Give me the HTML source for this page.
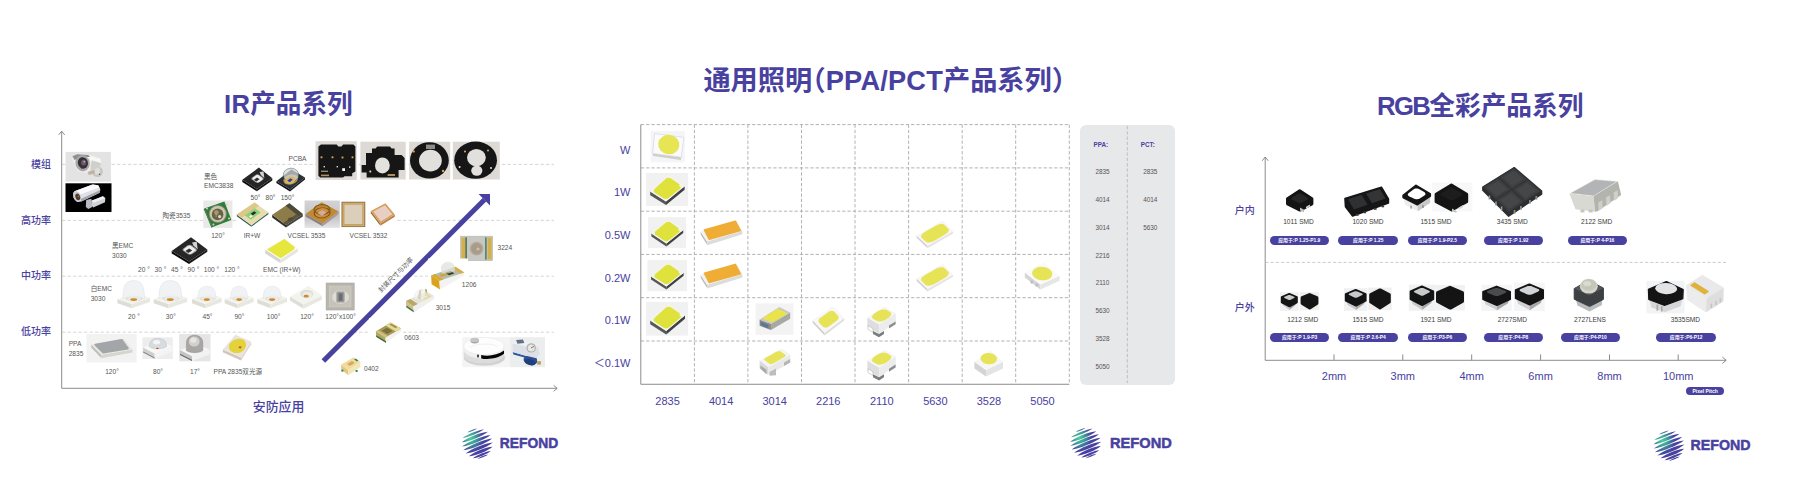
<!DOCTYPE html>
<html lang="zh"><head><meta charset="utf-8"><title>REFOND</title>
<style>
html,body{margin:0;padding:0;background:#fff}
body{width:1793px;height:490px;position:relative;overflow:hidden;font-family:"Liberation Sans","Noto Sans CJK SC",sans-serif}
.t{position:absolute;white-space:nowrap;line-height:1.2;z-index:2}
.a{position:absolute;overflow:visible}
.pill{position:absolute;background:#4841a0;color:#fff;border-radius:5px;text-align:center;font-weight:700;white-space:nowrap;overflow:hidden}
</style></head><body>
<div class="t" style="left:224px;top:104.0px;font-size:25.6px;color:#4841a0;font-weight:700;transform:translate(0,-50%)"><span style="letter-spacing:0.3px">IR</span>产品系列</div>
<svg class="a" style="left:0;top:0" width="600" height="420"><g fill="none" stroke="#7f7f7f" stroke-width="0.9"><path d="M61.7 388.3V131.5M58.7 134.8L61.7 131.2L64.7 134.8"/><path d="M61.7 388.3H557M553.6 385.3L557.2 388.3L553.6 391.3"/></g><g stroke="#cbcbcb" stroke-width="0.8" stroke-dasharray="3.3 2.2"><path d="M62 164.4H554"/><path d="M62 220.4H554"/><path d="M62 276.2H554"/><path d="M62 332.2H554"/></g><g fill="#4841a0" stroke="none"><path d="M321.6 359.3L325.2 362.8L486.2 201.4L482.6 197.9Z"/><path d="M490 194.1H478.6L490 205.4Z"/></g></svg>
<div class="t" style="left:51px;top:165.2px;font-size:10px;color:#4841a0;font-weight:500;transform:translate(-100%,-50%)">模组</div>
<div class="t" style="left:51px;top:220.8px;font-size:10px;color:#4841a0;font-weight:500;transform:translate(-100%,-50%)">高功率</div>
<div class="t" style="left:51px;top:276.2px;font-size:10px;color:#4841a0;font-weight:500;transform:translate(-100%,-50%)">中功率</div>
<div class="t" style="left:51px;top:331.6px;font-size:10px;color:#4841a0;font-weight:500;transform:translate(-100%,-50%)">低功率</div>
<div class="t" style="left:278.6px;top:406.6px;font-size:12.9px;color:#4841a0;font-weight:500;transform:translate(-50%,-50%)">安防应用</div>
<div class="t" style="left:395.8px;top:275.3px;font-size:6.6px;color:#555;font-weight:400;transform:translate(-50%,-50%) rotate(-45deg)">封装尺寸与功率</div>
<div class="t" style="left:288.5px;top:158.7px;font-size:6.6px;color:#555;font-weight:400;transform:translate(0,-50%)">PCBA</div>
<div class="t" style="left:204px;top:176.5px;font-size:6.6px;color:#555;font-weight:400;transform:translate(0,-50%)">黑色</div>
<div class="t" style="left:204px;top:186.3px;font-size:6.6px;color:#555;font-weight:400;transform:translate(0,-50%)">EMC3838</div>
<div class="t" style="left:255.5px;top:197.7px;font-size:6.6px;color:#555;font-weight:400;transform:translate(-50%,-50%)">50°</div>
<div class="t" style="left:270.5px;top:197.7px;font-size:6.6px;color:#555;font-weight:400;transform:translate(-50%,-50%)">80°</div>
<div class="t" style="left:287.5px;top:197.7px;font-size:6.6px;color:#555;font-weight:400;transform:translate(-50%,-50%)">150°</div>
<div class="t" style="left:162.5px;top:215.7px;font-size:6.6px;color:#555;font-weight:400;transform:translate(0,-50%)">陶瓷3535</div>
<div class="t" style="left:218px;top:235.7px;font-size:6.6px;color:#555;font-weight:400;transform:translate(-50%,-50%)">120°</div>
<div class="t" style="left:252px;top:235.7px;font-size:6.6px;color:#555;font-weight:400;transform:translate(-50%,-50%)">IR+W</div>
<div class="t" style="left:306.5px;top:235.7px;font-size:6.6px;color:#555;font-weight:400;transform:translate(-50%,-50%)">VCSEL 3535</div>
<div class="t" style="left:368.5px;top:235.7px;font-size:6.6px;color:#555;font-weight:400;transform:translate(-50%,-50%)">VCSEL 3532</div>
<div class="t" style="left:112px;top:245.7px;font-size:6.6px;color:#555;font-weight:400;transform:translate(0,-50%)">黑EMC</div>
<div class="t" style="left:112px;top:256.1px;font-size:6.6px;color:#555;font-weight:400;transform:translate(0,-50%)">3030</div>
<div class="t" style="left:144px;top:270.4px;font-size:6.6px;color:#555;font-weight:400;transform:translate(-50%,-50%)">20 °</div>
<div class="t" style="left:160.5px;top:270.4px;font-size:6.6px;color:#555;font-weight:400;transform:translate(-50%,-50%)">30 °</div>
<div class="t" style="left:177px;top:270.4px;font-size:6.6px;color:#555;font-weight:400;transform:translate(-50%,-50%)">45 °</div>
<div class="t" style="left:193.5px;top:270.4px;font-size:6.6px;color:#555;font-weight:400;transform:translate(-50%,-50%)">90 °</div>
<div class="t" style="left:211.5px;top:270.4px;font-size:6.6px;color:#555;font-weight:400;transform:translate(-50%,-50%)">100 °</div>
<div class="t" style="left:232px;top:270.4px;font-size:6.6px;color:#555;font-weight:400;transform:translate(-50%,-50%)">120 °</div>
<div class="t" style="left:281.8px;top:270.4px;font-size:6.6px;color:#555;font-weight:400;transform:translate(-50%,-50%)">EMC (IR+W)</div>
<div class="t" style="left:497.5px;top:248.4px;font-size:6.6px;color:#555;font-weight:400;transform:translate(0,-50%)">3224</div>
<div class="t" style="left:90.7px;top:289.0px;font-size:6.6px;color:#555;font-weight:400;transform:translate(0,-50%)">白EMC</div>
<div class="t" style="left:90.7px;top:298.5px;font-size:6.6px;color:#555;font-weight:400;transform:translate(0,-50%)">3030</div>
<div class="t" style="left:134px;top:316.7px;font-size:6.6px;color:#555;font-weight:400;transform:translate(-50%,-50%)">20 °</div>
<div class="t" style="left:170.8px;top:316.7px;font-size:6.6px;color:#555;font-weight:400;transform:translate(-50%,-50%)">30°</div>
<div class="t" style="left:207.5px;top:316.7px;font-size:6.6px;color:#555;font-weight:400;transform:translate(-50%,-50%)">45°</div>
<div class="t" style="left:239.4px;top:316.7px;font-size:6.6px;color:#555;font-weight:400;transform:translate(-50%,-50%)">90°</div>
<div class="t" style="left:273.6px;top:316.7px;font-size:6.6px;color:#555;font-weight:400;transform:translate(-50%,-50%)">100°</div>
<div class="t" style="left:307px;top:316.7px;font-size:6.6px;color:#555;font-weight:400;transform:translate(-50%,-50%)">120°</div>
<div class="t" style="left:340.6px;top:316.7px;font-size:6.6px;color:#555;font-weight:400;transform:translate(-50%,-50%)">120°x100°</div>
<div class="t" style="left:461.8px;top:284.9px;font-size:6.6px;color:#555;font-weight:400;transform:translate(0,-50%)">1206</div>
<div class="t" style="left:435.7px;top:307.7px;font-size:6.6px;color:#555;font-weight:400;transform:translate(0,-50%)">3015</div>
<div class="t" style="left:404.3px;top:337.9px;font-size:6.6px;color:#555;font-weight:400;transform:translate(0,-50%)">0603</div>
<div class="t" style="left:364px;top:369.3px;font-size:6.6px;color:#555;font-weight:400;transform:translate(0,-50%)">0402</div>
<div class="t" style="left:68.7px;top:344.4px;font-size:6.6px;color:#555;font-weight:400;transform:translate(0,-50%)">PPA</div>
<div class="t" style="left:68.7px;top:353.7px;font-size:6.6px;color:#555;font-weight:400;transform:translate(0,-50%)">2835</div>
<div class="t" style="left:112px;top:372.0px;font-size:6.6px;color:#555;font-weight:400;transform:translate(-50%,-50%)">120°</div>
<div class="t" style="left:158px;top:372.0px;font-size:6.6px;color:#555;font-weight:400;transform:translate(-50%,-50%)">80°</div>
<div class="t" style="left:195px;top:372.0px;font-size:6.6px;color:#555;font-weight:400;transform:translate(-50%,-50%)">17°</div>
<div class="t" style="left:237.8px;top:372.0px;font-size:6.6px;color:#555;font-weight:400;transform:translate(-50%,-50%)">PPA 2835双光源</div>
<svg class="a" style="left:0;top:0" width="1793" height="490"><defs><radialGradient id="lg1" gradientUnits="userSpaceOnUse" cx="-4.6" cy="-7.0" r="17"><stop offset="0" stop-color="#4fd09a"/><stop offset="0.35" stop-color="#3f9a9a"/><stop offset="0.75" stop-color="#4841a0"/></radialGradient></defs><g transform="translate(477.3,443.2) rotate(-22)" fill="url(#lg1)"><path d="M-5.2 -13.7C-2.6 -14.5 2.6 -14.5 5.2 -13.7C2.6 -12.9 -2.6 -12.9 -5.2 -13.7Z"/><path d="M-11.6 -10.4C-5.8 -11.9 5.8 -11.9 11.6 -10.4C5.8 -8.9 -5.8 -8.9 -11.6 -10.4Z"/><path d="M-14.1 -6.6C-7.1 -8.8 7.1 -8.8 14.1 -6.6C7.1 -4.4 -7.1 -4.4 -14.1 -6.6Z"/><path d="M-15.4 -2.7C-7.7 -4.9 7.7 -4.9 15.4 -2.7C7.7 -0.5 -7.7 -0.5 -15.4 -2.7Z"/><path d="M-15.6 1.2C-7.8 -1.0 7.8 -1.0 15.6 1.2C7.8 3.4 -7.8 3.4 -15.6 1.2Z"/><path d="M-14.7 5.1C-7.4 2.9 7.4 2.9 14.7 5.1C7.4 7.3 -7.4 7.3 -14.7 5.1Z"/><path d="M-12.8 8.9C-6.4 6.7 6.4 6.7 12.8 8.9C6.4 11.1 -6.4 11.1 -12.8 8.9Z"/><path d="M-9.7 12.2C-4.9 10.7 4.9 10.7 9.7 12.2C4.9 13.7 -4.9 13.7 -9.7 12.2Z"/><path d="M-5.8 14.5C-2.9 13.7 2.9 13.7 5.8 14.5C2.9 15.3 -2.9 15.3 -5.8 14.5Z"/></g><text x="499.8" y="448.2" font-family="Liberation Sans, sans-serif" font-weight="700" font-size="14.6" fill="#4841a0" stroke="#4841a0" stroke-width="0.5" textLength="58.400000000000034" lengthAdjust="spacingAndGlyphs">REFOND</text></svg>
<svg class="a" style="left:0;top:0" width="600" height="420"><rect x="65.5" y="151.9" width="45.4" height="29.7" fill="#e3e3e3" /><circle cx="97.4" cy="171.6" r="5.4" fill="#c6c6c4" /><circle cx="96.6" cy="170.8" r="3.6" fill="#dededc" /><circle cx="99.6" cy="174.2" r="0.7" fill="#555" /><polygon points="87.6,171.0 94.4,169.4 95.0,173.6 88.6,175.0" fill="#c2b2a4" /><polygon points="72.4,156.3 77.2,154.3 88.3,154.9 100.1,158.4 101.5,163.3 99.4,167.4 90.4,170.9 84.9,173.0 77.9,171.6 74.4,164.7 72.4,159.8" fill="#ecece9" /><polygon points="77.2,154.3 88.3,154.9 100.1,158.4 101.5,163.3 92.0,160.4 86.0,156.6" fill="#f7f7f5" /><polygon points="92.0,160.6 101.5,163.3 99.4,167.4 90.4,170.9 90.8,165.0" fill="#cfcfcc" /><polygon points="72.4,156.3 77.2,154.3 88.3,154.9 90.0,157.0 80.0,157.4 74.6,160.0" fill="#8f8f8f" /><ellipse cx="82.6" cy="163.2" rx="7.2" ry="8.0" fill="#a9a9ab" transform="rotate(-15 82.6 163.2)"/><ellipse cx="82.9" cy="162.9" rx="5.0" ry="5.8" fill="#35303a" transform="rotate(-15 82.9 162.9)"/><ellipse cx="83.6" cy="162.6" rx="2.4" ry="2.9" fill="#6e5a66" /><circle cx="84.4" cy="161.6" r="0.9" fill="#b9aab4" /><circle cx="81.6" cy="168.6" r="0.6" fill="#cc2a1a" /><rect x="65.5" y="183.3" width="46.0" height="28.7" fill="#000" /><polygon points="86.2,200.1 91.4,198.7 92.2,207.0 88.3,209.1 85.8,207.0" fill="#babcc4" /><polygon points="91.4,200.8 102.9,196.3 105.3,198.3 105.0,202.2 93.2,207.4 91.8,205.6" fill="#cfd1d7" /><polygon points="91.4,200.8 102.9,196.3 105.3,198.3 93.8,202.8" fill="#eeeff2" /><polygon points="73.1,193.1 74.4,191.3 92.5,184.4 98.1,185.2 100.3,189.0 99.7,192.7 81.4,201.5 77.2,201.9 73.8,198.0" fill="#dfe0e6" /><polygon points="74.4,191.3 92.5,184.4 98.1,185.2 99.6,187.6 80.0,194.6" fill="#fafafc" /><polygon points="81.4,201.5 99.7,192.7 100.3,190.0 80.7,199.0" fill="#a2a4ac" /><ellipse cx="77.0" cy="196.6" rx="3.7" ry="5.4" fill="#c9cad2" transform="rotate(-20 77 196.6)"/><ellipse cx="77.8" cy="196.9" rx="2.3" ry="3.4" fill="#4a3a30" transform="rotate(-20 77.8 196.9)"/><circle cx="78.4" cy="196.4" r="0.9" fill="#a0663a" /><rect x="315.6" y="141.2" width="41.2" height="38.8" fill="#dddad6" /><path d="M318.4 146.5L321 144.6H336.6L338.4 146.6H341.4L343.2 144.6H353.4L355.4 146.6V171.6L352.2 173.2V176.2H344.6L343 177.6H320.2L318.4 175.8Z" fill="#161616"/><rect x="320.6" y="156.4" width="1.8" height="1.8" fill="#e0b060" /><rect x="331.6" y="156.4" width="1.8" height="1.8" fill="#e0b060" /><rect x="341.6" y="156.6" width="1.8" height="1.8" fill="#e0b060" /><rect x="351.6" y="156.4" width="1.8" height="1.8" fill="#e0b060" /><rect x="323.6" y="166.0" width="1.4" height="1.4" fill="#e8e0c8" /><rect x="336.6" y="166.0" width="1.4" height="1.4" fill="#e8e0c8" /><rect x="349.0" y="166.4" width="1.4" height="1.4" fill="#e8e0c8" /><rect x="342.2" y="168.2" width="2.8" height="2.8" fill="#f4f4f4" /><rect x="321.0" y="170.6" width="7.0" height="1.4" fill="#8a8a80" /><rect x="321.0" y="174.6" width="8.0" height="1.6" fill="#b09060" /><rect x="360.4" y="141.7" width="45.3" height="37.8" fill="#dddad6" /><path d="M372 148.6H375.6L377.2 146.6H390L391.6 148.6H394.6V155H401.6L404.6 158V170H398.6V177.4H366.6V172.6H361.6V165H366V153H372Z" fill="#161616"/><ellipse cx="382.4" cy="165.4" rx="7.4" ry="8.0" fill="#e4e2de" /><rect x="387.6" y="174.0" width="7.4" height="2.0" fill="#b09060" /><rect x="369.4" y="170.6" width="1.8" height="1.8" fill="#e8e0c8" /><rect x="409.1" y="141.7" width="41.1" height="37.8" fill="#dddad6" /><ellipse cx="429.4" cy="160.4" rx="19.4" ry="18.2" fill="#161616" /><ellipse cx="430.4" cy="160.6" rx="11.4" ry="10.8" fill="#e2e0dc" /><rect x="426.0" y="144.6" width="9.0" height="4.4" fill="#8c8c88" /><circle cx="413.6" cy="151.4" r="1.2" fill="#e0a040" /><circle cx="443.0" cy="171.0" r="1.2" fill="#e0a040" /><rect x="452.8" y="141.7" width="47.0" height="37.8" fill="#dddad6" /><ellipse cx="475.6" cy="160.2" rx="21.4" ry="18.6" fill="#161616" /><ellipse cx="476.4" cy="157.6" rx="9.4" ry="8.6" fill="#e2e0dc" /><ellipse cx="476.8" cy="170.6" rx="5.6" ry="5.2" fill="#e2e0dc" /><circle cx="465.0" cy="151.6" r="1.0" fill="#e0b060" /><circle cx="488.0" cy="150.6" r="1.0" fill="#e0b060" /><circle cx="459.6" cy="167.0" r="1.0" fill="#e8e0c8" /><circle cx="491.0" cy="168.0" r="1.0" fill="#e8e0c8" /><polygon points="242.3,179.8 256.8,189.0 256.8,191.2 242.3,182.0" fill="#0a0a0a" /><polygon points="256.8,189.0 272.3,178.2 272.3,180.4 256.8,191.2" fill="#161616" /><polygon points="258.8,167.6 272.3,178.2 256.8,189.0 242.3,179.8" fill="#262626" /><polygon points="263.0,177.5 263.4,177.9 263.6,178.3 263.6,178.8 263.5,179.3 263.2,179.7 262.8,180.1 259.6,182.3 259.1,182.6 258.4,182.9 257.8,182.9 257.1,182.9 256.5,182.8 256.0,182.5 252.0,179.8 251.7,179.5 251.4,179.1 251.4,178.6 251.5,178.1 251.8,177.7 252.3,177.3 255.5,174.9 256.1,174.6 256.7,174.3 257.4,174.2 258.1,174.3 258.6,174.4 259.1,174.7" fill="#8e8e8e" /><polygon points="262.1,177.8 262.4,178.1 262.6,178.5 262.6,178.8 262.5,179.2 262.3,179.6 261.9,179.9 259.4,181.7 258.9,182.0 258.4,182.2 257.8,182.2 257.3,182.2 256.8,182.1 256.4,181.9 253.0,179.6 252.7,179.3 252.5,178.9 252.4,178.5 252.6,178.1 252.8,177.8 253.2,177.4 255.8,175.5 256.2,175.3 256.8,175.1 257.3,175.0 257.9,175.0 258.4,175.1 258.8,175.4" fill="#eeeeee" /><polygon points="257.1,177.4 259.6,179.2 256.4,181.5 253.9,179.7" fill="#2e2e2e" /><polygon points="259.6,172.1 263.5,171.5 264.3,178.0 260.9,175.0" fill="#d4d4d4" /><polygon points="276.4,181.2 290.0,189.6 290.0,191.4 276.4,183.0" fill="#0c0e10" /><polygon points="290.0,189.6 305.0,177.6 305.0,179.4 290.0,191.4" fill="#1a1d20" /><polygon points="291.4,169.6 305.0,177.6 290.0,189.6 276.4,181.2" fill="#2b3036" /><polygon points="295.6,182.5 294.3,183.3 292.8,184.0 291.2,184.5 289.5,184.7 288.0,184.6 286.5,184.3 285.3,183.7 284.3,183.0 283.7,182.0 283.4,181.0 283.5,179.8 283.9,178.7 284.7,177.6 285.8,176.5 287.1,175.7 288.6,175.0 290.2,174.6 291.9,174.4 293.4,174.4 294.9,174.7 296.1,175.3 297.1,176.0 297.7,176.9 298.0,178.0 297.9,179.1 297.5,180.3 296.7,181.4" fill="#b89a4c" /><ellipse cx="291.0" cy="175.0" rx="7.8" ry="6.8" fill="#cfd6da" opacity="0.72" stroke="#39434b" stroke-width="0.6"/><polygon points="293.6,182.3 292.7,182.9 291.7,183.4 290.5,183.7 289.4,183.9 288.3,183.8 287.3,183.6 286.5,183.2 285.8,182.7 285.4,182.0 285.2,181.3 285.2,180.5 285.5,179.7 286.1,178.9 286.8,178.2 287.7,177.6 288.8,177.1 289.9,176.8 291.0,176.7 292.1,176.7 293.1,176.9 294.0,177.3 294.6,177.8 295.1,178.5 295.3,179.2 295.2,180.0 294.9,180.8 294.4,181.6" fill="#d8b860" /><polygon points="290.4,178.3 292.8,179.7 289.7,182.2 287.2,180.7" fill="#2a3fc0" /><rect x="203.3" y="200.5" width="29.1" height="27.4" fill="#e9e9e7" /><polygon points="224.4,201.4 231.4,220.0 212.0,227.2 204.4,208.4" fill="#2e7d3a" /><polygon points="204.4,208.4 212.0,227.2 211.6,228.0 203.8,209.0" fill="#1c5a28" /><circle cx="217.8" cy="214.0" r="9.0" fill="#8f8b74" /><circle cx="217.8" cy="214.0" r="8.0" fill="#cdc8b2" /><circle cx="217.6" cy="214.4" r="5.8" fill="#6a6248" /><circle cx="216.4" cy="212.6" r="2.4" fill="#9a947a" /><ellipse cx="219.6" cy="216.6" rx="1.6" ry="1.6" fill="#d8d8d0" /><rect x="215.6" y="210.4" width="1.0" height="6.6" fill="#c0a040" /><circle cx="207.0" cy="208.6" r="1.0" fill="#d8d0a8" /><circle cx="226.6" cy="204.6" r="1.0" fill="#d8d0a8" /><circle cx="213.4" cy="224.6" r="1.0" fill="#d8d0a8" /><circle cx="229.0" cy="218.6" r="1.0" fill="#d8d0a8" /><rect x="236.7" y="201.0" width="31.9" height="27.0" fill="#fff" /><rect x="271.8" y="201.0" width="32.8" height="27.0" fill="#fff" /><rect x="340.0" y="200.5" width="57.0" height="27.5" fill="#fff" /><polygon points="236.8,214.6 251.4,225.2 251.4,226.8 236.8,216.2" fill="#2c5a5a" /><polygon points="251.4,225.2 268.4,212.6 268.4,214.2 251.4,226.8" fill="#3a6a66" /><polygon points="254.6,202.6 268.4,212.6 251.4,225.2 236.8,214.6" fill="#e9dcae" /><polygon points="254.6,202.6 259.0,205.8 241.5,218.0 236.8,214.6" fill="#dcc88a" /><polygon points="254.9,208.3 260.7,212.5 250.8,219.7 244.7,215.3" fill="#8fd07a" /><polygon points="254.1,211.2 256.4,212.8 252.9,215.3 250.6,213.7" fill="#2a2a2a" /><polygon points="251.1,215.0 252.8,216.2 250.7,217.7 249.0,216.5" fill="#f4f4f4" /><polygon points="272.2,214.8 286.0,225.0 286.0,227.6 272.2,217.4" fill="#2e2e2c" /><polygon points="286.0,225.0 302.8,214.0 302.8,216.6 286.0,227.6" fill="#454540" /><polygon points="289.4,203.2 302.8,214.0 286.0,225.0 272.2,214.8" fill="#8c7c48" /><polygon points="289.4,203.2 302.8,214.0 299.1,216.4 285.6,205.8" fill="#4c4a3c" /><polygon points="296.7,214.1 299.4,216.2 286.0,225.0 283.2,223.0" fill="#5a563e" /><polygon points="292.1,220.6 291.6,220.9 291.1,221.1 290.5,221.2 289.9,221.2 289.4,221.1 288.9,220.9 288.5,220.7 288.1,220.4 287.9,220.0 287.9,219.6 287.9,219.2 288.1,218.8 288.4,218.4 288.8,218.1 289.3,217.8 289.9,217.7 290.5,217.5 291.0,217.5 291.6,217.6 292.1,217.8 292.5,218.0 292.8,218.3 293.0,218.7 293.1,219.1 293.0,219.5 292.8,219.9 292.5,220.3" fill="#4c4a3c" /><defs><linearGradient id="vg" x1="0" y1="0" x2="0" y2="1"><stop offset="0" stop-color="#d4d4d6"/><stop offset="0.6" stop-color="#c4c4c6"/><stop offset="1" stop-color="#e4e4e6"/></linearGradient></defs><rect x="304.6" y="200.5" width="35.2" height="27.4" fill="url(#vg)" /><polygon points="305.6,214.0 322.6,223.6 322.6,226.2 305.6,216.6" fill="#8a8088" /><polygon points="322.6,223.6 338.6,211.6 338.6,214.2 322.6,226.2" fill="#a89aa0" /><polygon points="321.6,202.2 338.6,211.6 322.6,223.6 305.6,214.0" fill="#bf8a32" /><polygon points="328.2,216.3 326.8,217.1 325.1,217.8 323.3,218.2 321.4,218.3 319.6,218.2 317.8,217.8 316.3,217.1 315.1,216.3 314.3,215.2 313.8,214.1 313.7,212.8 314.1,211.6 314.9,210.5 316.0,209.4 317.4,208.6 319.1,207.9 320.9,207.5 322.8,207.4 324.6,207.5 326.4,207.9 327.9,208.6 329.1,209.4 329.9,210.5 330.4,211.6 330.5,212.8 330.1,214.1 329.3,215.2" fill="#7a4a20" /><polygon points="327.4,215.8 326.1,216.5 324.7,217.1 323.1,217.5 321.5,217.6 319.9,217.5 318.4,217.1 317.1,216.5 316.1,215.8 315.3,214.9 314.9,213.9 314.9,212.8 315.2,211.8 315.9,210.8 316.8,209.9 318.1,209.2 319.5,208.6 321.1,208.3 322.7,208.1 324.3,208.3 325.8,208.6 327.1,209.2 328.1,209.9 328.9,210.8 329.3,211.8 329.3,212.8 329.0,213.9 328.3,214.9" fill="#c8923c" /><ellipse cx="322.0" cy="209.4" rx="7.8" ry="4.8" fill="none" stroke="#8a5a20" stroke-width="1.4"/><polygon points="322.0,209.9 326.7,212.5 322.2,215.8 317.5,213.2" fill="#d8a8a0" /><rect x="341.9" y="202.1" width="23.0" height="24.6" fill="#bf9650" stroke="#7a6444" stroke-width="0.7"/><rect x="344.4" y="204.6" width="18.0" height="19.6" fill="#dccfb9" /><rect x="343.2" y="203.4" width="20.4" height="22.0" fill="none" stroke="#d8b070" stroke-width="0.8"/><polygon points="370.8,211.0 380.4,223.6 380.4,225.8 370.8,213.2" fill="#9a6e38" /><polygon points="380.4,223.6 394.8,214.6 394.8,216.8 380.4,225.8" fill="#b8824a" /><polygon points="385.4,203.2 394.8,214.6 380.4,223.6 370.8,211.0" fill="#d3a05a" /><polygon points="384.9,205.2 392.4,214.3 380.9,221.5 373.2,211.4" fill="#e9cfc3" /><polygon points="171.7,251.0 189.0,261.6 189.0,264.0 171.7,253.4" fill="#0a0a0a" /><polygon points="189.0,261.6 207.3,249.4 207.3,251.8 189.0,264.0" fill="#161616" /><polygon points="191.0,237.2 207.3,249.4 189.0,261.6 171.7,251.0" fill="#262626" /><polygon points="196.2,248.6 196.6,249.0 196.9,249.5 197.0,250.0 196.8,250.6 196.5,251.1 196.0,251.5 192.3,254.0 191.6,254.4 190.9,254.6 190.1,254.7 189.3,254.7 188.6,254.5 188.0,254.2 183.2,251.1 182.8,250.7 182.5,250.2 182.5,249.7 182.6,249.2 183.0,248.6 183.5,248.2 187.3,245.5 187.9,245.1 188.7,244.9 189.5,244.8 190.3,244.8 191.0,245.0 191.6,245.3" fill="#8e8e8e" /><polygon points="195.1,248.9 195.5,249.2 195.7,249.6 195.8,250.1 195.6,250.5 195.4,250.9 194.9,251.3 192.0,253.3 191.4,253.6 190.8,253.8 190.1,253.9 189.5,253.9 188.9,253.7 188.4,253.5 184.3,250.8 184.0,250.5 183.7,250.1 183.7,249.6 183.8,249.2 184.1,248.7 184.5,248.4 187.6,246.2 188.1,245.9 188.7,245.7 189.4,245.6 190.1,245.7 190.6,245.8 191.1,246.1" fill="#eeeeee" /><polygon points="189.2,248.4 192.2,250.4 188.4,253.0 185.4,251.0" fill="#2e2e2e" /><polygon points="192.0,242.4 196.7,241.7 197.7,249.2 193.6,245.7" fill="#d4d4d4" /><polygon points="265.2,249.6 280.6,259.4 280.6,263.2 265.2,253.4" fill="#d6d6d0" /><polygon points="280.6,259.4 297.8,248.0 297.8,251.8 280.6,263.2" fill="#e6e6e0" /><polygon points="284.6,238.0 297.8,248.0 280.6,259.4 265.2,249.6" fill="#fafaf6" /><polygon points="284.3,239.1 296.2,248.1 280.7,258.3 266.9,249.5" fill="#e6e63c" /><polygon points="295.2,246.0 297.8,248.0 293.7,250.7" fill="#fafaf6" /><rect x="460.5" y="236.2" width="32.1" height="24.4" fill="#c7c7c3" stroke="#b4b4b0" stroke-width="0.6"/><rect x="461.4" y="237.6" width="4.0" height="21.8" fill="#d4b04a" /><rect x="487.6" y="237.6" width="4.0" height="21.8" fill="#d4b04a" /><rect x="465.4" y="237.4" width="1.4" height="22.2" fill="#3a6a4a" /><rect x="485.2" y="237.4" width="1.4" height="22.2" fill="#3a7a5a" /><circle cx="476.6" cy="248.6" r="6.8" fill="#b4aa98" /><circle cx="476.6" cy="248.6" r="5.4" fill="#a89c88" /><circle cx="478.0" cy="249.0" r="1.6" fill="#c8c0b0" /><polygon points="117.4,299.0 131.7,304.0 131.7,308.2 117.4,303.2" fill="#deded6" /><polygon points="131.7,304.0 150.0,297.8 150.0,302.0 131.7,308.2" fill="#e8e8e0" /><polygon points="135.7,292.8 150.0,297.8 131.7,304.0 117.4,299.0" fill="#f4f4ee" /><ellipse cx="134.3" cy="298.2" rx="8.5" ry="3.1" fill="#e0e0d8" /><ellipse cx="134.5" cy="298.8" rx="6.5" ry="2.4" fill="#ecece6" /><ellipse cx="133.7" cy="299.6" rx="3.4" ry="1.3" fill="#cf8a30" /><path d="M122.9 299.0C122.9 285.9 125.6 280.6 133.7 280.6C141.8 280.6 144.5 285.9 144.5 299.0C140.2 296.2 127.2 296.2 122.9 299.0Z" fill="#eff1f3" fill-opacity="0.92" stroke="#dcdfe3" stroke-width="0.5"/><polygon points="153.6,299.0 168.3,304.0 168.3,308.2 153.6,303.2" fill="#deded6" /><polygon points="168.3,304.0 187.0,297.8 187.0,302.0 168.3,308.2" fill="#e8e8e0" /><polygon points="172.3,292.8 187.0,297.8 168.3,304.0 153.6,299.0" fill="#f4f4ee" /><ellipse cx="170.9" cy="298.2" rx="8.7" ry="3.1" fill="#e0e0d8" /><ellipse cx="171.1" cy="298.8" rx="6.7" ry="2.4" fill="#ecece6" /><ellipse cx="170.3" cy="299.6" rx="3.5" ry="1.3" fill="#cf8a30" /><path d="M158.9 299.0C158.9 285.9 161.8 280.6 170.3 280.6C178.8 280.6 181.7 285.9 181.7 299.0C177.1 296.2 163.5 296.2 158.9 299.0Z" fill="#eff1f3" fill-opacity="0.92" stroke="#dcdfe3" stroke-width="0.5"/><polygon points="192.0,299.0 205.1,304.0 205.1,308.2 192.0,303.2" fill="#deded6" /><polygon points="205.1,304.0 221.7,297.8 221.7,302.0 205.1,308.2" fill="#e8e8e0" /><polygon points="208.6,292.8 221.7,297.8 205.1,304.0 192.0,299.0" fill="#f4f4ee" /><ellipse cx="207.4" cy="298.2" rx="7.7" ry="3.1" fill="#e0e0d8" /><ellipse cx="207.7" cy="298.8" rx="5.9" ry="2.4" fill="#ecece6" /><ellipse cx="206.8" cy="299.6" rx="3.1" ry="1.3" fill="#cf8a30" /><path d="M197.9 299.0C197.9 290.0 200.2 286.4 206.8 286.4C213.5 286.4 215.8 290.0 215.8 299.0C212.2 296.2 201.5 296.2 197.9 299.0Z" fill="#eff1f3" fill-opacity="0.92" stroke="#dcdfe3" stroke-width="0.5"/><polygon points="224.6,299.0 237.4,304.0 237.4,308.2 224.6,303.2" fill="#deded6" /><polygon points="237.4,304.0 253.6,297.8 253.6,302.0 237.4,308.2" fill="#e8e8e0" /><polygon points="240.8,292.8 253.6,297.8 237.4,304.0 224.6,299.0" fill="#f4f4ee" /><ellipse cx="239.7" cy="298.2" rx="7.5" ry="3.1" fill="#e0e0d8" /><ellipse cx="239.9" cy="298.8" rx="5.8" ry="2.4" fill="#ecece6" /><ellipse cx="239.1" cy="299.6" rx="3.0" ry="1.3" fill="#cf8a30" /><path d="M230.7 299.0C230.7 290.0 232.8 286.4 239.1 286.4C245.4 286.4 247.5 290.0 247.5 299.0C244.1 296.2 234.1 296.2 230.7 299.0Z" fill="#eff1f3" fill-opacity="0.92" stroke="#dcdfe3" stroke-width="0.5"/><polygon points="257.3,299.0 270.4,304.0 270.4,308.2 257.3,303.2" fill="#deded6" /><polygon points="270.4,304.0 287.0,297.8 287.0,302.0 270.4,308.2" fill="#e8e8e0" /><polygon points="273.9,292.8 287.0,297.8 270.4,304.0 257.3,299.0" fill="#f4f4ee" /><ellipse cx="272.8" cy="298.2" rx="7.7" ry="3.1" fill="#e0e0d8" /><ellipse cx="272.9" cy="298.8" rx="5.9" ry="2.4" fill="#ecece6" /><ellipse cx="272.1" cy="299.6" rx="3.1" ry="1.3" fill="#cf8a30" /><path d="M263.2 299.0C263.2 290.0 265.5 286.4 272.1 286.4C278.8 286.4 281.1 290.0 281.1 299.0C277.5 296.2 266.8 296.2 263.2 299.0Z" fill="#eff1f3" fill-opacity="0.92" stroke="#dcdfe3" stroke-width="0.5"/><polygon points="290.0,296.4 303.4,304.6 303.4,308.8 290.0,300.6" fill="#deded6" /><polygon points="303.4,304.6 321.8,295.6 321.8,299.8 303.4,308.8" fill="#e8e8e0" /><polygon points="308.6,285.8 321.8,295.6 303.4,304.6 290.0,296.4" fill="#f4f4ee" /><ellipse cx="306.8" cy="294.0" rx="6.4" ry="4.0" fill="#dcdcd4" /><ellipse cx="307.4" cy="294.6" rx="5.0" ry="3.0" fill="#ecece6" /><ellipse cx="306.2" cy="296.2" rx="2.6" ry="1.4" fill="#d08a30" /><rect x="326.1" y="283.0" width="28.1" height="27.0" fill="#b9b6ae" stroke="#a9a69e" stroke-width="0.6"/><rect x="329.4" y="286.2" width="21.6" height="20.6" fill="#c6c3bb" stroke="#d2cfc7" stroke-width="0.6"/><ellipse cx="340.6" cy="297.2" rx="8.4" ry="6.6" fill="#dedcd6" /><rect x="336.4" y="291.6" width="8.2" height="11.0" fill="#9a9890" rx="1.5"/><rect x="338.6" y="293.4" width="4.0" height="7.4" fill="#6a6c78" /><rect x="428.0" y="258.5" width="40.0" height="32.5" fill="#fff" /><rect x="369.0" y="318.0" width="33.4" height="28.0" fill="#fff" /><ellipse cx="448.0" cy="268.4" rx="7.0" ry="6.4" fill="#e2e5e2" /><polygon points="431.1,275.4 439.4,280.8 440.0,289.6 431.6,284.2" fill="#dba31c" /><polygon points="439.4,280.8 464.3,272.4 464.3,275.6 440.0,289.6" fill="#f3f3f1" /><polygon points="431.1,275.4 455.4,266.8 464.3,272.4 439.4,280.8" fill="#b7bbad" /><polygon points="431.1,275.4 435.0,274.0 443.4,279.5 439.4,280.8" fill="#d8aa30" /><polygon points="452.0,268.0 455.4,266.8 464.3,272.4 460.8,273.6" fill="#d8b040" /><polygon points="447.8,272.1 439.0,275.1 441.7,276.9 450.6,273.8" fill="#c9a83c" /><polygon points="450.6,270.9 445.2,272.8 448.9,275.2 454.4,273.4" fill="#34401c" /><path d="M441.2 272.4C441.2 264 445 261.6 448.2 261.6C451.6 261.6 455 264.4 455 270.4C451 273.6 445 274.6 441.2 272.4Z" fill="#e9ebe9" fill-opacity="0.6"/><polygon points="405.9,301.0 413.2,306.2 413.8,312.6 406.4,307.4" fill="#cdbf8c" /><polygon points="413.2,306.2 434.2,296.0 434.2,299.0 413.8,312.6" fill="#efefed" /><polygon points="405.9,301.0 426.4,291.6 434.2,296.0 413.2,306.2" fill="#e6e4d8" /><polygon points="405.9,301.0 410.4,298.9 417.8,304.0 413.2,306.2" fill="#b8a868" /><polygon points="406.4,305.4 413.6,310.4 413.8,312.2 406.4,307.2" fill="#3a7a4a" /><polygon points="425.1,293.0 419.0,295.8 425.0,299.6 431.3,296.6" fill="#e4dc8c" /><polygon points="417.4,298.6 419.4,290.4 421.4,289.6 420.6,299.6" fill="#8a8460" /><polygon points="424.6,296.4 425.4,288.6 426.8,289.4 427.4,295.4" fill="#b0a468" /><path d="M414.4 298.6C414.4 292.6 417.6 289.8 421.2 289.8C424.8 289.8 427.6 292.6 427.6 296.6C423.6 299.8 418 300.6 414.4 298.6Z" fill="#f4f4f2" fill-opacity="0.7" stroke="#deded8" stroke-width="0.4"/><polygon points="375.8,331.4 385.4,337.4 386.0,343.0 376.3,337.0" fill="#b4a464" /><polygon points="385.4,337.4 401.2,328.6 401.2,331.6 386.0,343.0" fill="#f1f1ed" /><polygon points="375.8,331.4 390.6,322.4 401.2,328.6 385.4,337.4" fill="#a8985a" /><polygon points="376.2,335.2 385.9,341.2 386.0,342.8 376.3,336.8" fill="#2a6a3a" /><polygon points="390.6,322.4 385.6,325.5 395.8,331.6 401.2,328.6" fill="#e4dc94" /><polygon points="378.0,330.0 375.8,331.4 385.4,337.4 387.8,336.1" fill="#cfc27c" /><polygon points="386.9,327.7 381.8,330.8 387.2,334.1 392.5,331.1" fill="#7a7238" /><polygon points="391.1,323.4 389.3,324.5 395.5,328.2 397.4,327.1" fill="#a89040" /><polygon points="341.2,364.6 348.4,370.2 348.4,375.2 341.2,369.6" fill="#e4c880" /><polygon points="348.4,370.2 360.4,362.0 360.4,367.0 348.4,375.2" fill="#f4e6b4" /><polygon points="353.6,357.2 360.4,362.0 348.4,370.2 341.2,364.6" fill="#f0dca0" /><polygon points="352.0,360.9 354.7,362.9 349.9,366.1 347.0,364.0" fill="#d8a860" /><polygon points="355.6,358.6 358.4,360.6 356.9,361.5 354.2,359.6" fill="#2a8a5a" /><rect x="341.4" y="369.6" width="2.0" height="2.0" fill="#2a8a5a" /><rect x="355.6" y="370.0" width="2.0" height="2.0" fill="#2a8a5a" /><rect x="86.4" y="334.0" width="50.2" height="28.4" fill="#f2f2f2" /><polygon points="91.2,344.6 101.3,354.8 101.5,358.2 91.4,347.8" fill="#bfbfb9" /><polygon points="101.3,354.8 132.5,349.6 132.5,352.6 101.5,358.2" fill="#d6d6d0" /><polygon points="91.2,344.6 123.8,338.4 132.5,349.6 101.3,354.8" fill="#e8e8e2" /><polygon points="95.4,344.8 121.6,339.9 127.8,348.4 103.0,352.4" fill="#a3a6a8" stroke="#a3a6a8" stroke-width="2" stroke-linejoin="round"/><rect x="142.4" y="337.3" width="30.4" height="21.7" fill="#ededed" /><polygon points="143.2,347.4 154.6,353.4 154.6,358.6 143.2,352.6" fill="#cfcfcf" /><polygon points="154.6,353.4 172.4,346.6 172.4,351.8 154.6,358.6" fill="#f4f4f4" /><polygon points="161.6,341.4 172.4,346.6 154.6,353.4 143.2,347.4" fill="#f8f8f8" /><polygon points="143.2,351.4 154.6,357.6 154.6,358.6 143.2,352.6" fill="#7a7a7a" /><path d="M149.4 346.8C149.4 340 153 338.4 158 338.4C163 338.4 166.6 340.6 166.6 346.4C163 349.4 153.4 349.6 149.4 346.8Z" fill="#d9dcdf" stroke="#b9bcbf" stroke-width="0.5"/><ellipse cx="156.6" cy="342.2" rx="3.4" ry="2.2" fill="#f4f5f6" /><ellipse cx="157.4" cy="348.4" rx="1.2" ry="0.7" fill="#e03020" /><rect x="179.2" y="334.0" width="31.3" height="27.3" fill="#e5e5e5" /><polygon points="180.0,350.0 192.0,356.0 192.0,361.0 180.0,355.0" fill="#c4c4c4" /><polygon points="192.0,356.0 209.6,349.6 209.6,354.6 192.0,361.0" fill="#f2f2f2" /><polygon points="197.6,344.4 209.6,349.6 192.0,356.0 180.0,350.0" fill="#f6f6f6" /><polygon points="180.0,353.8 192.0,359.8 192.0,361.0 180.0,355.0" fill="#6a6a6a" /><path d="M186.4 350.6V343C186.4 337.6 190.4 335.2 194.6 335.2C198.8 335.2 202.8 337.6 202.8 343V350.6C198.8 353.4 190.4 353.4 186.4 350.6Z" fill="#a9a7a5" stroke="#8c8a88" stroke-width="0.5"/><ellipse cx="194.2" cy="341.6" rx="5.4" ry="5.0" fill="#d2d0ce" /><ellipse cx="193.4" cy="340.2" rx="3.0" ry="2.6" fill="#e6e5e4" /><polygon points="222.8,349.4 241.0,357.6 241.0,360.4 222.8,352.2" fill="#cfc6bc" /><polygon points="241.0,357.6 251.2,341.4 251.2,344.2 241.0,360.4" fill="#dcd4cc" /><polygon points="235.4,334.8 251.2,341.4 241.0,357.6 222.8,349.4" fill="#eae4de" /><polygon points="244.7,348.9 243.6,350.3 242.1,351.5 240.4,352.4 238.5,352.9 236.5,353.1 234.6,352.9 232.8,352.3 231.3,351.4 230.0,350.2 229.2,348.8 228.8,347.3 228.9,345.7 229.5,344.1 230.5,342.7 231.8,341.4 233.4,340.3 235.2,339.5 237.1,338.9 239.0,338.7 240.8,338.9 242.4,339.3 243.8,340.1 244.8,341.2 245.6,342.5 246.0,344.1 245.9,345.7 245.5,347.3" fill="#e4d23c" /><polygon points="239.7,345.9 241.8,346.8 240.5,348.7 238.4,347.8" fill="#c8642a" /><rect x="462.2" y="337.2" width="47.9" height="30.0" fill="#f4f4f4" /><ellipse cx="484.4" cy="357.6" rx="20.6" ry="8.2" fill="#d2d2d2" /><path d="M463.7 346.2V354.2C465 366 503 366 504.2 353.4V346.2Z" fill="#f0f0f0"/><path d="M463.7 350.2V354.2C465 366 503 366 504.2 353.4V349.6C502 361 466 361.5 463.7 350.2Z" fill="#dcdcdc"/><ellipse cx="483.9" cy="346.1" rx="20.2" ry="8.7" fill="#fdfdfd" stroke="#e4e4e4" stroke-width="0.5"/><path d="M481.2 355.0C488 356.6 498 355.2 504.0 350.6V353.8C498 358.6 488 359.8 481.2 358.4Z" fill="#050505"/><rect x="477.2" y="354.4" width="1.6" height="3.0" fill="#1a1a1a" rx="0.6"/><ellipse cx="474.7" cy="341.0" rx="4.2" ry="2.4" fill="#9e9e9e" /><ellipse cx="474.7" cy="340.0" rx="4.2" ry="2.3" fill="#c4c4c4" /><path d="M470 347.6C474 343.6 494 342.6 497.6 346.6" fill="none" stroke="#e6e6e6" stroke-width="0.6"/><rect x="510.1" y="337.2" width="34.9" height="30.0" fill="#eceeee" /><polygon points="512.7,352.0 524.8,355.4 536.8,358.2 537.0,360.4 524.4,357.6 513.4,354.6" fill="#2e5a9e" /><ellipse cx="530.4" cy="360.4" rx="7.0" ry="4.6" fill="#2a4f92" transform="rotate(14 530.4 360.4)"/><ellipse cx="530.0" cy="362.2" rx="5.6" ry="3.0" fill="#223f7c" transform="rotate(14 530 362.2)"/><rect x="537.2" y="361.2" width="3.7" height="3.4" fill="#c09a5a" /><polygon points="512.4,343.8 518.4,338.7 524.8,339.2 538.1,347.0 539.9,353.6 536.6,358.2 524.8,355.4 512.7,352.0" fill="#dde0e7" /><polygon points="512.4,343.8 518.4,338.7 524.8,339.2 538.1,347.0 530.0,348.0 519.0,344.6" fill="#eef0f4" /><polygon points="516.1,340.1 523.0,339.6 524.3,342.9 517.4,343.8" fill="#667084" /><circle cx="531.2" cy="347.9" r="4.7" fill="#aab4b0" /><circle cx="531.2" cy="347.9" r="3.5" fill="#e2e8e2" /><path d="M531 348L534 346.4" stroke="#cc3030" stroke-width="0.8"/></svg>
<div class="t" style="left:703.4px;top:81.1px;font-size:27.2px;color:#4841a0;font-weight:700;transform:translate(0,-50%)">通用照明<span style="margin-left:-0.5em">（</span><span style="letter-spacing:0.2px">PPA/PCT</span>产品系列）</div>
<svg class="a" style="left:0;top:0" width="1200" height="420"><g fill="none" stroke="#b2b2b2" stroke-width="1" stroke-dasharray="3.3 2"><path d="M694.4 124.6V384.28"/><path d="M747.9 124.6V384.28"/><path d="M801.5 124.6V384.28"/><path d="M855.0 124.6V384.28"/><path d="M908.6 124.6V384.28"/><path d="M962.2 124.6V384.28"/><path d="M1015.7 124.6V384.28"/><path d="M1069.3 124.6V384.28"/><path d="M640.8 124.6H1069.3"/><path d="M640.8 167.9H1069.3"/><path d="M640.8 211.2H1069.3"/><path d="M640.8 254.4H1069.3"/><path d="M640.8 297.7H1069.3"/><path d="M640.8 341.0H1069.3"/></g><path d="M640.8 124.6V384.28H1069.3" fill="none" stroke="#8c8c8c" stroke-width="1"/></svg>
<div class="t" style="left:630.5px;top:150.5px;font-size:11px;color:#4841a0;font-weight:400;transform:translate(-100%,-50%)">W</div>
<div class="t" style="left:630.5px;top:193.18px;font-size:11px;color:#4841a0;font-weight:400;transform:translate(-100%,-50%)">1W</div>
<div class="t" style="left:630.5px;top:235.86px;font-size:11px;color:#4841a0;font-weight:400;transform:translate(-100%,-50%)">0.5W</div>
<div class="t" style="left:630.5px;top:278.53999999999996px;font-size:11px;color:#4841a0;font-weight:400;transform:translate(-100%,-50%)">0.2W</div>
<div class="t" style="left:630.5px;top:321.22px;font-size:11px;color:#4841a0;font-weight:400;transform:translate(-100%,-50%)">0.1W</div>
<div class="t" style="left:630.5px;top:363.9px;font-size:11px;color:#4841a0;font-weight:400;transform:translate(-100%,-50%)">＜0.1W</div>
<div class="t" style="left:667.5799999999999px;top:401.8px;font-size:11px;color:#4841a0;font-weight:400;transform:translate(-50%,-50%)">2835</div>
<div class="t" style="left:721.14px;top:401.8px;font-size:11px;color:#4841a0;font-weight:400;transform:translate(-50%,-50%)">4014</div>
<div class="t" style="left:774.6999999999999px;top:401.8px;font-size:11px;color:#4841a0;font-weight:400;transform:translate(-50%,-50%)">3014</div>
<div class="t" style="left:828.26px;top:401.8px;font-size:11px;color:#4841a0;font-weight:400;transform:translate(-50%,-50%)">2216</div>
<div class="t" style="left:881.8199999999999px;top:401.8px;font-size:11px;color:#4841a0;font-weight:400;transform:translate(-50%,-50%)">2110</div>
<div class="t" style="left:935.38px;top:401.8px;font-size:11px;color:#4841a0;font-weight:400;transform:translate(-50%,-50%)">5630</div>
<div class="t" style="left:988.9399999999999px;top:401.8px;font-size:11px;color:#4841a0;font-weight:400;transform:translate(-50%,-50%)">3528</div>
<div class="t" style="left:1042.5px;top:401.8px;font-size:11px;color:#4841a0;font-weight:400;transform:translate(-50%,-50%)">5050</div>
<div class="a" style="left:1079.8px;top:124.5px;width:95.2px;height:260.2px;background:#e7e8ea;border-radius:6px"></div>
<svg class="a" style="left:0;top:0" width="1200" height="420"><path d="M1127.3 126V383" stroke="#b9b9bd" stroke-width="0.9" stroke-dasharray="3.3 2" fill="none"/></svg>
<div class="t" style="left:1093.6px;top:144.5px;font-size:6.3px;color:#4841a0;font-weight:700;transform:translate(0,-50%)">PPA:</div>
<div class="t" style="left:1140.8px;top:144.5px;font-size:6.3px;color:#4841a0;font-weight:700;transform:translate(0,-50%)">PCT:</div>
<div class="t" style="left:1102.5px;top:171.9px;font-size:6.4px;color:#555;font-weight:400;transform:translate(-50%,-50%)">2835</div>
<div class="t" style="left:1102.5px;top:199.8px;font-size:6.4px;color:#555;font-weight:400;transform:translate(-50%,-50%)">4014</div>
<div class="t" style="left:1102.5px;top:227.6px;font-size:6.4px;color:#555;font-weight:400;transform:translate(-50%,-50%)">3014</div>
<div class="t" style="left:1102.5px;top:255.5px;font-size:6.4px;color:#555;font-weight:400;transform:translate(-50%,-50%)">2216</div>
<div class="t" style="left:1102.5px;top:283.4px;font-size:6.4px;color:#555;font-weight:400;transform:translate(-50%,-50%)">2110</div>
<div class="t" style="left:1102.5px;top:311.2px;font-size:6.4px;color:#555;font-weight:400;transform:translate(-50%,-50%)">5630</div>
<div class="t" style="left:1102.5px;top:339.1px;font-size:6.4px;color:#555;font-weight:400;transform:translate(-50%,-50%)">3528</div>
<div class="t" style="left:1102.5px;top:367.0px;font-size:6.4px;color:#555;font-weight:400;transform:translate(-50%,-50%)">5050</div>
<div class="t" style="left:1150.3px;top:171.9px;font-size:6.4px;color:#555;font-weight:400;transform:translate(-50%,-50%)">2835</div>
<div class="t" style="left:1150.3px;top:199.8px;font-size:6.4px;color:#555;font-weight:400;transform:translate(-50%,-50%)">4014</div>
<div class="t" style="left:1150.3px;top:227.6px;font-size:6.4px;color:#555;font-weight:400;transform:translate(-50%,-50%)">5630</div>
<svg class="a" style="left:0;top:0" width="1793" height="490"><defs><radialGradient id="lg2" gradientUnits="userSpaceOnUse" cx="-4.6" cy="-7.0" r="17"><stop offset="0" stop-color="#4fd09a"/><stop offset="0.35" stop-color="#3f9a9a"/><stop offset="0.75" stop-color="#4841a0"/></radialGradient></defs><g transform="translate(1085.7,442.6) rotate(-22)" fill="url(#lg2)"><path d="M-5.2 -13.7C-2.6 -14.5 2.6 -14.5 5.2 -13.7C2.6 -12.9 -2.6 -12.9 -5.2 -13.7Z"/><path d="M-11.6 -10.4C-5.8 -11.9 5.8 -11.9 11.6 -10.4C5.8 -8.9 -5.8 -8.9 -11.6 -10.4Z"/><path d="M-14.1 -6.6C-7.1 -8.8 7.1 -8.8 14.1 -6.6C7.1 -4.4 -7.1 -4.4 -14.1 -6.6Z"/><path d="M-15.4 -2.7C-7.7 -4.9 7.7 -4.9 15.4 -2.7C7.7 -0.5 -7.7 -0.5 -15.4 -2.7Z"/><path d="M-15.6 1.2C-7.8 -1.0 7.8 -1.0 15.6 1.2C7.8 3.4 -7.8 3.4 -15.6 1.2Z"/><path d="M-14.7 5.1C-7.4 2.9 7.4 2.9 14.7 5.1C7.4 7.3 -7.4 7.3 -14.7 5.1Z"/><path d="M-12.8 8.9C-6.4 6.7 6.4 6.7 12.8 8.9C6.4 11.1 -6.4 11.1 -12.8 8.9Z"/><path d="M-9.7 12.2C-4.9 10.7 4.9 10.7 9.7 12.2C4.9 13.7 -4.9 13.7 -9.7 12.2Z"/><path d="M-5.8 14.5C-2.9 13.7 2.9 13.7 5.8 14.5C2.9 15.3 -2.9 15.3 -5.8 14.5Z"/></g><text x="1110" y="448.2" font-family="Liberation Sans, sans-serif" font-weight="700" font-size="14.6" fill="#4841a0" stroke="#4841a0" stroke-width="0.5" textLength="61.799999999999955" lengthAdjust="spacingAndGlyphs">REFOND</text></svg>
<svg class="a" style="left:0;top:0" width="1200" height="420"><rect x="650.7" y="131.0" width="34.1" height="31.3" fill="#f4f5f8" /><polygon points="652.6,153.4 681.2,157.2 680.9,160.0 653.2,156.0" fill="#cfcfc8" /><polygon points="654.6,133.6 684.0,137.4 681.2,157.2 652.6,153.4" fill="#fbfbfb" stroke="#c9d3e2" stroke-width="0.6"/><ellipse cx="668.8" cy="144.6" rx="10.6" ry="9.7" fill="#e8e554" transform="rotate(8 668.8 144.6)"/><rect x="646.1" y="173.0" width="42.0" height="33.1" fill="#f1f1f1" /><polygon points="650.2,191.6 666.0,201.4 666.0,205.0 650.2,195.2" fill="#55575a" /><polygon points="666.0,201.4 684.6,186.2 684.6,189.8 666.0,205.0" fill="#3f4144" /><polygon points="668.4,175.0 684.6,186.2 666.0,201.4 650.2,191.6" fill="#f4f4ee" /><polygon points="680.1,184.8 680.7,185.3 681.0,186.0 681.0,186.8 680.8,187.5 680.4,188.3 679.7,189.0 669.3,197.6 668.4,198.1 667.5,198.6 666.5,198.8 665.5,198.9 664.5,198.7 663.8,198.4 654.6,192.7 654.1,192.2 653.7,191.5 653.7,190.8 653.9,190.0 654.3,189.2 655.0,188.5 665.2,179.2 666.0,178.6 667.0,178.1 668.0,177.8 669.0,177.8 669.9,178.0 670.7,178.3" fill="#dfe23a" /><polygon points="684.6,186.2 681.0,183.7 678.8,185.6 682.0,188.3" fill="#f4f4ee" /><rect x="648.0" y="217.2" width="38.1" height="30.9" fill="#f1f1f1" /><polygon points="651.4,233.6 666.4,243.6 666.4,246.6 651.4,236.6" fill="#55575a" /><polygon points="666.4,243.6 683.2,230.0 683.2,233.0 666.4,246.6" fill="#3f4144" /><polygon points="668.2,219.2 683.2,230.0 666.4,243.6 651.4,233.6" fill="#f4f4ee" /><polygon points="679.0,228.6 679.6,229.1 679.9,229.7 680.0,230.4 679.8,231.1 679.4,231.8 678.8,232.5 669.3,240.1 668.6,240.6 667.7,241.0 666.7,241.2 665.8,241.2 665.0,241.0 664.3,240.7 655.6,234.8 655.0,234.4 654.7,233.7 654.6,233.0 654.8,232.3 655.2,231.6 655.8,230.9 665.3,222.9 666.0,222.4 666.9,222.0 667.9,221.8 668.8,221.8 669.6,222.0 670.3,222.3" fill="#dfe23a" /><polygon points="683.2,230.0 679.9,227.6 677.9,229.3 680.8,231.9" fill="#f4f4ee" /><rect x="647.4" y="260.1" width="39.6" height="31.1" fill="#f1f1f1" /><polygon points="651.0,276.4 666.4,286.6 666.4,289.6 651.0,279.4" fill="#55575a" /><polygon points="666.4,286.6 683.6,272.8 683.6,275.8 666.4,289.6" fill="#3f4144" /><polygon points="668.2,262.2 683.6,272.8 666.4,286.6 651.0,276.4" fill="#f4f4ee" /><polygon points="679.3,271.4 679.9,271.9 680.2,272.6 680.3,273.3 680.1,274.0 679.7,274.7 679.0,275.3 669.4,283.0 668.6,283.6 667.7,283.9 666.7,284.1 665.8,284.1 664.9,284.0 664.2,283.6 655.3,277.7 654.7,277.2 654.4,276.6 654.3,275.9 654.5,275.1 654.9,274.4 655.6,273.8 665.2,265.8 666.0,265.3 666.9,264.9 667.9,264.7 668.8,264.7 669.7,264.9 670.4,265.3" fill="#dfe23a" /><polygon points="683.6,272.8 680.2,270.5 678.1,272.1 681.2,274.7" fill="#f4f4ee" /><rect x="646.1" y="301.9" width="42.0" height="33.7" fill="#f1f1f1" /><polygon points="650.2,320.6 666.2,331.0 666.2,334.6 650.2,324.2" fill="#55575a" /><polygon points="666.2,331.0 685.0,315.2 685.0,318.8 666.2,334.6" fill="#3f4144" /><polygon points="668.4,304.0 685.0,315.2 666.2,331.0 650.2,320.6" fill="#f4f4ee" /><polygon points="680.4,313.8 681.0,314.4 681.3,315.0 681.4,315.8 681.2,316.6 680.7,317.4 680.0,318.1 669.5,327.0 668.7,327.6 667.7,328.0 666.7,328.3 665.6,328.4 664.7,328.2 664.0,327.9 654.7,321.8 654.1,321.3 653.8,320.6 653.7,319.8 653.9,319.0 654.3,318.2 655.0,317.5 665.2,308.2 666.1,307.6 667.0,307.1 668.1,306.9 669.1,306.8 670.0,307.0 670.8,307.3" fill="#dfe23a" /><polygon points="685.0,315.2 681.3,312.7 679.1,314.7 682.4,317.4" fill="#f4f4ee" /><polygon points="700.6,231.6 707.0,241.6 707.4,245.2 700.8,234.8" fill="#bdbdbb" /><polygon points="707.0,241.6 742.4,230.8 742.4,234.2 707.4,245.2" fill="#dcdcdc" /><polygon points="700.6,231.6 736.2,220.2 742.4,230.8 707.0,241.6" fill="#f2f2f2" /><polygon points="704.4,230.0 735.2,221.2 740.4,230.6 709.2,239.2" fill="#efad35" stroke="#efad35" stroke-width="1.6" stroke-linejoin="round"/><polygon points="700.6,274.8 707.0,284.8 707.4,288.4 700.8,278.0" fill="#bdbdbb" /><polygon points="707.0,284.8 742.4,274.0 742.4,277.4 707.4,288.4" fill="#dcdcdc" /><polygon points="700.6,274.8 736.2,263.4 742.4,274.0 707.0,284.8" fill="#f2f2f2" /><polygon points="704.4,273.2 735.2,264.4 740.4,273.8 709.2,282.4" fill="#efad35" stroke="#efad35" stroke-width="1.6" stroke-linejoin="round"/><polygon points="916.6,235.4 927.6,245.8 927.6,248.2 916.6,237.8" fill="#d2d2d2" /><polygon points="927.6,245.8 953.0,231.2 953.0,233.6 927.6,248.2" fill="#e4e4e4" /><polygon points="942.8,220.6 953.0,231.2 927.6,245.8 916.6,235.4" fill="#f6f6f6" /><polygon points="948.3,228.8 948.7,229.6 948.7,230.5 948.2,231.6 947.4,232.7 946.1,233.8 944.6,234.8 934.5,240.7 932.8,241.5 931.1,242.1 929.4,242.4 927.9,242.5 926.6,242.2 925.7,241.7 921.6,237.7 921.1,237.0 921.1,236.0 921.5,234.9 922.4,233.8 923.7,232.7 925.2,231.7 935.7,225.8 937.4,224.9 939.1,224.3 940.8,224.0 942.3,224.0 943.6,224.2 944.4,224.8" fill="#e7e356" /><polygon points="916.6,278.6 927.6,289.0 927.6,291.4 916.6,281.0" fill="#d2d2d2" /><polygon points="927.6,289.0 953.0,274.4 953.0,276.8 927.6,291.4" fill="#e4e4e4" /><polygon points="942.8,263.8 953.0,274.4 927.6,289.0 916.6,278.6" fill="#f6f6f6" /><polygon points="948.3,272.0 948.7,272.8 948.7,273.7 948.2,274.8 947.4,275.9 946.1,277.0 944.6,278.0 934.5,283.9 932.8,284.7 931.1,285.3 929.4,285.6 927.9,285.7 926.6,285.4 925.7,284.9 921.6,280.9 921.1,280.2 921.1,279.2 921.5,278.1 922.4,277.0 923.7,275.9 925.2,274.9 935.7,269.0 937.4,268.1 939.1,267.5 940.8,267.2 942.3,267.2 943.6,267.4 944.4,268.0" fill="#e7e356" /><polygon points="1024.8,272.6 1040.4,284.6 1040.4,289.6 1024.8,277.6" fill="#d6d6d6" /><polygon points="1040.4,284.6 1059.6,275.8 1059.6,280.8 1040.4,289.6" fill="#e6e6e6" /><polygon points="1043.4,262.2 1059.6,275.8 1040.4,284.6 1024.8,272.6" fill="#fafafa" /><rect x="1030.5" y="280.5" width="2.5" height="3.0" fill="#bdbdbd" /><rect x="1035.5" y="283.5" width="2.5" height="3.0" fill="#bdbdbd" /><ellipse cx="1042.2" cy="273.6" rx="10.2" ry="6.8" fill="#e7e356" transform="rotate(5 1042.2 273.6)"/><rect x="755.6" y="303.4" width="37.8" height="31.3" fill="#f3f3f3" /><polygon points="759.6,319.6 771.0,323.8 771.0,330.0 759.6,325.8" fill="#8d8f8d" /><polygon points="771.0,323.8 790.2,312.6 790.2,318.8 771.0,330.0" fill="#a9a9a3" /><polygon points="779.4,307.0 790.2,312.6 771.0,323.8 759.6,319.6" fill="#c9c9c3" /><polygon points="760.6,321.5 768.5,324.8 768.5,328.4 760.6,325.2" fill="#5f7890" /><polygon points="786.4,312.8 786.7,313.0 786.8,313.3 786.7,313.7 786.4,314.0 786.0,314.4 785.4,314.8 774.7,321.1 774.0,321.4 773.3,321.7 772.6,321.9 772.0,322.0 771.4,322.0 771.0,321.9 763.5,319.1 763.2,318.9 763.1,318.6 763.2,318.3 763.5,317.9 764.0,317.5 764.5,317.1 775.6,310.0 776.2,309.7 777.0,309.4 777.7,309.2 778.3,309.1 778.8,309.1 779.3,309.2" fill="#e8e44a" /><polygon points="759.6,360.4 768.4,367.0 768.4,375.0 759.6,368.4" fill="#d9d9d9" /><polygon points="768.4,367.0 790.4,354.4 790.4,362.4 768.4,375.0" fill="#e9e9e9" /><polygon points="781.6,348.4 790.4,354.4 768.4,367.0 759.6,360.4" fill="#f4f4f4" /><polygon points="760.4,365.4 766.5,369.8 766.5,374.6 760.4,368.4" fill="#a9a9a9" /><polygon points="784.0,362.5 790.2,359.0 790.2,362.5 784.0,366.0" fill="#b5b5b5" /><polygon points="769.5,372.0 776.0,368.4 776.0,375.2 769.5,375.8" fill="#bdbdbd" /><polygon points="785.6,354.9 785.8,355.2 785.8,355.6 785.5,356.1 785.1,356.6 784.5,357.1 783.7,357.6 774.0,363.1 773.2,363.5 772.3,363.8 771.5,364.1 770.7,364.2 770.1,364.1 769.7,363.9 764.4,360.0 764.2,359.7 764.2,359.3 764.5,358.9 764.9,358.4 765.5,357.9 766.3,357.4 776.0,352.1 776.8,351.7 777.7,351.4 778.5,351.2 779.3,351.1 779.9,351.1 780.3,351.3" fill="#e7e356" /><polygon points="812.6,320.2 824.6,332.8 824.6,335.4 812.6,322.8" fill="#cfcfcf" /><polygon points="824.6,332.8 844.2,318.0 844.2,320.6 824.6,335.4" fill="#dedede" /><polygon points="833.0,306.0 844.2,318.0 824.6,332.8 812.6,320.2" fill="#f7f7f7" /><polygon points="838.0,315.7 838.5,316.4 838.6,317.3 838.4,318.2 838.0,319.2 837.3,320.2 836.3,321.0 829.2,326.3 828.1,327.0 826.9,327.5 825.7,327.7 824.6,327.6 823.7,327.3 822.9,326.8 819.1,322.8 818.6,322.0 818.4,321.1 818.6,320.1 819.1,319.2 819.8,318.2 820.8,317.4 828.1,312.3 829.2,311.6 830.4,311.1 831.6,310.9 832.7,311.0 833.7,311.3 834.4,311.8" fill="#e7e356" /><polygon points="867.4,317.6 879.2,324.4 879.2,333.8 867.4,327.0" fill="#dedede" /><polygon points="879.2,324.4 895.8,313.2 895.8,322.6 879.2,333.8" fill="#ececec" /><polygon points="884.4,306.6 895.8,313.2 879.2,324.4 867.4,317.6" fill="#f5f5f5" /><polygon points="868.0,325.5 873.0,328.6 873.0,332.4 868.0,329.4" fill="#fdfdfd" stroke="#aaa" stroke-width="0.5"/><polygon points="873.0,334.0 879.0,337.2 884.0,334.0 884.0,331.0 879.0,334.0 873.0,331.0" fill="#7d7d7d" /><polygon points="889.0,328.5 895.6,324.2 895.6,321.4 889.0,325.6" fill="#8d8d8d" /><polygon points="890.0,311.9 890.8,312.6 891.2,313.6 891.1,314.6 890.6,315.8 889.6,316.9 888.3,318.0 886.3,319.3 884.7,320.2 882.9,320.9 881.1,321.4 879.4,321.5 877.9,321.3 876.6,320.8 873.3,318.9 872.5,318.2 872.1,317.3 872.2,316.2 872.8,315.1 873.8,313.9 875.1,312.9 877.2,311.6 878.8,310.7 880.6,310.0 882.4,309.6 884.1,309.5 885.6,309.6 886.8,310.1" fill="#e7e356" /><polygon points="867.4,360.8 879.2,367.6 879.2,377.0 867.4,370.2" fill="#dedede" /><polygon points="879.2,367.6 895.8,356.4 895.8,365.8 879.2,377.0" fill="#ececec" /><polygon points="884.4,349.8 895.8,356.4 879.2,367.6 867.4,360.8" fill="#f5f5f5" /><polygon points="868.0,368.7 873.0,371.8 873.0,375.6 868.0,372.6" fill="#fdfdfd" stroke="#aaa" stroke-width="0.5"/><polygon points="873.0,377.2 879.0,380.4 884.0,377.2 884.0,374.2 879.0,377.2 873.0,374.2" fill="#7d7d7d" /><polygon points="889.0,371.7 895.6,367.4 895.6,364.6 889.0,368.8" fill="#8d8d8d" /><polygon points="890.0,355.1 890.8,355.8 891.2,356.8 891.1,357.8 890.6,359.0 889.6,360.1 888.3,361.2 886.3,362.5 884.7,363.4 882.9,364.1 881.1,364.6 879.4,364.7 877.9,364.5 876.6,364.0 873.3,362.1 872.5,361.4 872.1,360.5 872.2,359.4 872.8,358.3 873.8,357.1 875.1,356.1 877.2,354.8 878.8,353.9 880.6,353.2 882.4,352.8 884.1,352.7 885.6,352.8 886.8,353.3" fill="#e7e356" /><polygon points="974.4,361.8 986.0,370.0 986.0,376.6 974.4,368.4" fill="#d4d4d4" /><polygon points="986.0,370.0 1003.0,361.8 1003.0,368.4 986.0,376.6" fill="#e4e4e4" /><polygon points="990.2,350.2 1003.0,361.8 986.0,370.0 974.4,361.8" fill="#f6f6f6" /><ellipse cx="988.8" cy="358.6" rx="8.3" ry="5.6" fill="#e7e356" transform="rotate(4 988.8 358.6)"/></svg>
<div class="t" style="left:1377px;top:105.6px;font-size:25.7px;color:#4841a0;font-weight:700;transform:translate(0,-50%)"><span style="letter-spacing:-1.6px">RGB</span>全彩产品系列</div>
<svg class="a" style="left:0;top:0" width="1793" height="420"><g fill="none" stroke="#7f7f7f" stroke-width="0.9"><path d="M1265.2 360.3V157.3M1262.2 160.8L1265.2 157L1268.2 160.8"/><path d="M1265.2 360.3H1726M1722.4 357.1L1726.2 360.3L1722.4 363.5"/><path d="M1334 354.4V360.3"/><path d="M1402.8 354.4V360.3"/><path d="M1471.7 354.4V360.3"/><path d="M1540.6 354.4V360.3"/><path d="M1609.5 354.4V360.3"/><path d="M1678.2 354.4V360.3"/></g><path d="M1265.5 262.4H1726" stroke="#bdbdbd" stroke-width="0.8" stroke-dasharray="3 2.2" fill="none"/></svg>
<div class="t" style="left:1254.8px;top:211px;font-size:10px;color:#4841a0;font-weight:500;transform:translate(-100%,-50%)">户内</div>
<div class="t" style="left:1254.8px;top:308px;font-size:10px;color:#4841a0;font-weight:500;transform:translate(-100%,-50%)">户外</div>
<div class="t" style="left:1334px;top:376.8px;font-size:11px;color:#4841a0;font-weight:400;transform:translate(-50%,-50%)">2mm</div>
<div class="t" style="left:1402.8px;top:376.8px;font-size:11px;color:#4841a0;font-weight:400;transform:translate(-50%,-50%)">3mm</div>
<div class="t" style="left:1471.7px;top:376.8px;font-size:11px;color:#4841a0;font-weight:400;transform:translate(-50%,-50%)">4mm</div>
<div class="t" style="left:1540.6px;top:376.8px;font-size:11px;color:#4841a0;font-weight:400;transform:translate(-50%,-50%)">6mm</div>
<div class="t" style="left:1609.5px;top:376.8px;font-size:11px;color:#4841a0;font-weight:400;transform:translate(-50%,-50%)">8mm</div>
<div class="t" style="left:1678.2px;top:376.8px;font-size:11px;color:#4841a0;font-weight:400;transform:translate(-50%,-50%)">10mm</div>
<div class="t" style="left:1298.5px;top:222.1px;font-size:6.6px;color:#3a3a3a;font-weight:400;transform:translate(-50%,-50%)">1011 SMD</div>
<div class="pill" style="left:1269.8px;top:236.1px;width:58.8px;height:8.5px;line-height:9.5px;font-size:4.9px">应用于:P 1.25-P1.9</div>
<div class="t" style="left:1368px;top:222.1px;font-size:6.6px;color:#3a3a3a;font-weight:400;transform:translate(-50%,-50%)">1020 SMD</div>
<div class="pill" style="left:1338.4px;top:236.1px;width:59.6px;height:8.5px;line-height:9.5px;font-size:4.9px">应用于:P 1.25</div>
<div class="t" style="left:1436px;top:222.1px;font-size:6.6px;color:#3a3a3a;font-weight:400;transform:translate(-50%,-50%)">1515 SMD</div>
<div class="pill" style="left:1407.8px;top:236.1px;width:59.2px;height:8.5px;line-height:9.5px;font-size:4.9px">应用于:P 1.9-P2.5</div>
<div class="t" style="left:1512.3px;top:222.1px;font-size:6.6px;color:#3a3a3a;font-weight:400;transform:translate(-50%,-50%)">3435 SMD</div>
<div class="pill" style="left:1483.6px;top:236.1px;width:59.2px;height:8.5px;line-height:9.5px;font-size:4.9px">应用于:P 1.92</div>
<div class="t" style="left:1596.7px;top:222.1px;font-size:6.6px;color:#3a3a3a;font-weight:400;transform:translate(-50%,-50%)">2122 SMD</div>
<div class="pill" style="left:1567.6px;top:236.1px;width:59.6px;height:8.5px;line-height:9.5px;font-size:4.9px">应用于:P 4-P16</div>
<div class="t" style="left:1302.8px;top:319.8px;font-size:6.6px;color:#3a3a3a;font-weight:400;transform:translate(-50%,-50%)">1212 SMD</div>
<div class="pill" style="left:1269.8px;top:333.1px;width:59.6px;height:8.5px;line-height:9.5px;font-size:4.9px">应用于:P 1.9-P3</div>
<div class="t" style="left:1368px;top:319.8px;font-size:6.6px;color:#3a3a3a;font-weight:400;transform:translate(-50%,-50%)">1515 SMD</div>
<div class="pill" style="left:1338.4px;top:333.1px;width:59.6px;height:8.5px;line-height:9.5px;font-size:4.9px">应用于:P 2.6-P4</div>
<div class="t" style="left:1436px;top:319.8px;font-size:6.6px;color:#3a3a3a;font-weight:400;transform:translate(-50%,-50%)">1921 SMD</div>
<div class="pill" style="left:1407.8px;top:333.1px;width:59.2px;height:8.5px;line-height:9.5px;font-size:4.9px">应用于:P3-P6</div>
<div class="t" style="left:1512.3px;top:319.8px;font-size:6.6px;color:#3a3a3a;font-weight:400;transform:translate(-50%,-50%)">2727SMD</div>
<div class="pill" style="left:1483.6px;top:333.1px;width:59.2px;height:8.5px;line-height:9.5px;font-size:4.9px">应用于:P4-P8</div>
<div class="t" style="left:1590px;top:319.8px;font-size:6.6px;color:#3a3a3a;font-weight:400;transform:translate(-50%,-50%)">2727LENS</div>
<div class="pill" style="left:1560.8px;top:333.1px;width:59.2px;height:8.5px;line-height:9.5px;font-size:4.9px">应用于:P4-P10</div>
<div class="t" style="left:1685.4px;top:319.8px;font-size:6.6px;color:#3a3a3a;font-weight:400;transform:translate(-50%,-50%)">3535SMD</div>
<div class="pill" style="left:1656.3px;top:333.1px;width:59.7px;height:8.5px;line-height:9.5px;font-size:4.9px">应用于:P6-P12</div>
<div class="pill" style="left:1686.3px;top:386.6px;width:37.7px;height:8.6px;line-height:9.6px;font-size:5.0px">Pixel Pitch</div>
<svg class="a" style="left:0;top:0" width="1793" height="490"><defs><radialGradient id="lg3" gradientUnits="userSpaceOnUse" cx="-4.6" cy="-7.0" r="17"><stop offset="0" stop-color="#4fd09a"/><stop offset="0.35" stop-color="#3f9a9a"/><stop offset="0.75" stop-color="#4841a0"/></radialGradient></defs><g transform="translate(1669,445.2) rotate(-22)" fill="url(#lg3)"><path d="M-5.2 -13.7C-2.6 -14.5 2.6 -14.5 5.2 -13.7C2.6 -12.9 -2.6 -12.9 -5.2 -13.7Z"/><path d="M-11.6 -10.4C-5.8 -11.9 5.8 -11.9 11.6 -10.4C5.8 -8.9 -5.8 -8.9 -11.6 -10.4Z"/><path d="M-14.1 -6.6C-7.1 -8.8 7.1 -8.8 14.1 -6.6C7.1 -4.4 -7.1 -4.4 -14.1 -6.6Z"/><path d="M-15.4 -2.7C-7.7 -4.9 7.7 -4.9 15.4 -2.7C7.7 -0.5 -7.7 -0.5 -15.4 -2.7Z"/><path d="M-15.6 1.2C-7.8 -1.0 7.8 -1.0 15.6 1.2C7.8 3.4 -7.8 3.4 -15.6 1.2Z"/><path d="M-14.7 5.1C-7.4 2.9 7.4 2.9 14.7 5.1C7.4 7.3 -7.4 7.3 -14.7 5.1Z"/><path d="M-12.8 8.9C-6.4 6.7 6.4 6.7 12.8 8.9C6.4 11.1 -6.4 11.1 -12.8 8.9Z"/><path d="M-9.7 12.2C-4.9 10.7 4.9 10.7 9.7 12.2C4.9 13.7 -4.9 13.7 -9.7 12.2Z"/><path d="M-5.8 14.5C-2.9 13.7 2.9 13.7 5.8 14.5C2.9 15.3 -2.9 15.3 -5.8 14.5Z"/></g><text x="1690.6" y="450.4" font-family="Liberation Sans, sans-serif" font-weight="700" font-size="14.6" fill="#4841a0" stroke="#4841a0" stroke-width="0.5" textLength="60.0" lengthAdjust="spacingAndGlyphs">REFOND</text></svg>
<svg class="a" style="left:0;top:0" width="1793" height="420"><polygon points="1287.5,198.8 1299.7,190.7 1311.9,198.8 1311.9,203.8 1300.0,210.1 1287.5,203.8" fill="#141414" stroke="#141414" stroke-width="3" stroke-linejoin="round"/><polygon points="1307.5,197.7 1307.9,198.0 1308.1,198.3 1308.2,198.6 1308.1,198.9 1307.9,199.2 1307.6,199.4 1301.3,202.8 1300.9,203.0 1300.4,203.1 1299.9,203.1 1299.4,203.1 1298.9,203.0 1298.4,202.8 1291.9,199.4 1291.6,199.2 1291.4,198.9 1291.3,198.6 1291.4,198.3 1291.6,198.0 1291.9,197.7 1298.2,193.6 1298.7,193.4 1299.2,193.2 1299.7,193.2 1300.2,193.2 1300.7,193.4 1301.2,193.6" fill="#262626" /><polygon points="1300.0,207.5 1304.0,209.8 1304.0,212.2 1300.0,210.5" fill="#bdbdbd" /><polygon points="1306.0,206.8 1310.0,204.6 1310.0,206.6 1306.0,209.0" fill="#cfcfcf" /><polygon points="1345.0,198.6 1381.4,187.2 1388.4,198.8 1388.4,203.0 1352.6,216.0 1345.5,206.8" fill="#161616" stroke="#161616" stroke-width="1.6" stroke-linejoin="round"/><polygon points="1379.9,189.1 1385.5,198.4 1371.9,203.2 1366.1,193.4" fill="#333435" /><polygon points="1361.7,194.8 1367.6,204.7 1354.0,209.5 1347.9,199.2" fill="#2f3031" /><rect x="1356.0" y="214.0" width="2.6" height="1.8" fill="#3e3e3e" /><rect x="1363.5" y="211.5" width="2.6" height="1.8" fill="#3e3e3e" /><rect x="1374.0" y="208.0" width="2.6" height="1.8" fill="#3e3e3e" /><rect x="1381.5" y="205.5" width="2.6" height="1.8" fill="#3e3e3e" /><polygon points="1403.4,197.0 1417.2,204.0 1417.9,211.2 1405.0,204.4" fill="#ececec" /><polygon points="1417.2,204.0 1430.4,196.0 1430.0,203.1 1417.9,211.2" fill="#c9c9c9" /><rect x="1410.2" y="205.6" width="1.8" height="3.0" fill="#a9a9a9" /><rect x="1422.0" y="205.0" width="1.8" height="3.0" fill="#9a9a9a" /><polygon points="1403.0,195.2 1415.8,185.2 1430.4,193.8 1430.4,196.2 1417.2,204.8 1403.0,197.6" fill="#141414" stroke="#141414" stroke-width="1.4" stroke-linejoin="round"/><polygon points="1424.2,192.1 1424.8,192.6 1425.3,193.2 1425.4,193.8 1425.4,194.4 1425.0,195.0 1424.4,195.5 1419.7,198.5 1418.9,198.9 1418.0,199.1 1417.0,199.3 1416.0,199.2 1415.1,199.1 1414.2,198.8 1409.1,196.2 1408.4,195.8 1408.0,195.3 1407.8,194.7 1407.9,194.1 1408.2,193.4 1408.8,192.9 1413.4,189.4 1414.2,188.9 1415.1,188.6 1416.1,188.5 1417.1,188.5 1418.1,188.7 1418.9,189.1" fill="#ffffff" /><rect x="1432.0" y="182.4" width="40.4" height="29.2" fill="#f8f8f8" /><polygon points="1436.1,194.4 1451.4,185.1 1466.7,194.4 1466.7,201.7 1451.7,209.9 1436.1,201.7" fill="#141414" stroke="#141414" stroke-width="3" stroke-linejoin="round"/><polygon points="1461.8,193.2 1462.2,193.6 1462.5,193.9 1462.6,194.3 1462.5,194.7 1462.3,195.0 1461.9,195.3 1453.5,200.0 1452.9,200.2 1452.3,200.3 1451.7,200.4 1451.0,200.3 1450.3,200.2 1449.8,200.0 1441.1,195.3 1440.6,195.0 1440.4,194.7 1440.3,194.3 1440.4,193.9 1440.6,193.6 1441.0,193.2 1449.6,188.1 1450.1,187.8 1450.7,187.7 1451.4,187.6 1452.1,187.7 1452.7,187.8 1453.2,188.1" fill="#1d1d1d" /><polygon points="1452.0,208.6 1456.5,211.0 1456.5,213.0 1452.0,211.0" fill="#c4c4c4" /><polygon points="1458.6,207.4 1463.0,205.0 1463.0,207.0 1458.6,209.6" fill="#d4d4d4" /><polygon points="1482.8,187.0 1514.2,167.6 1541.6,191.0 1541.6,194.2 1508.6,216.2 1482.8,190.2" fill="#2d2e30" stroke="#2d2e30" stroke-width="1.4" stroke-linejoin="round"/><polygon points="1514.2,167.6 1541.6,191.0 1508.6,212.6 1482.8,187.0" fill="#333436" /><polygon points="1514.0,169.7 1524.9,179.1 1512.1,187.3 1501.4,177.5" fill="#454648" stroke="#3d3e40" stroke-width="2" stroke-linejoin="round"/><polygon points="1527.7,181.5 1538.6,190.9 1525.4,199.5 1514.7,189.7" fill="#454648" stroke="#3d3e40" stroke-width="2" stroke-linejoin="round"/><polygon points="1498.3,179.5 1508.9,189.3 1496.0,197.5 1485.7,187.3" fill="#454648" stroke="#3d3e40" stroke-width="2" stroke-linejoin="round"/><polygon points="1511.5,191.8 1522.1,201.6 1509.0,210.2 1498.6,200.0" fill="#454648" stroke="#3d3e40" stroke-width="2" stroke-linejoin="round"/><rect x="1488.6" y="195.5" width="1.6" height="4.0" fill="#9a9a9a" /><rect x="1495.2" y="201.5" width="1.6" height="4.0" fill="#9a9a9a" /><rect x="1500.8" y="206.5" width="1.6" height="4.0" fill="#9a9a9a" /><rect x="1513.6" y="210.0" width="1.8" height="3.6" fill="#8a8a8a" /><rect x="1520.0" y="206.0" width="1.8" height="3.6" fill="#8a8a8a" /><rect x="1529.0" y="200.0" width="1.8" height="3.6" fill="#8a8a8a" /><rect x="1535.4" y="196.0" width="1.8" height="3.6" fill="#8a8a8a" /><polygon points="1569.4,193.4 1593.6,196.1 1595.0,211.8 1575.4,209.2" fill="#d9d9d3" /><polygon points="1593.6,196.1 1617.9,181.3 1621.2,195.0 1597.6,211.2 1595.0,211.8" fill="#b4b4ae" /><polygon points="1569.4,193.4 1595.0,179.3 1617.9,181.3 1593.6,196.1" fill="#dcdcd6" /><polygon points="1571.4,192.9 1594.9,180.0 1616.0,181.8 1593.6,195.4" fill="#b2b4b6" /><polygon points="1598.2,202.6 1602.2,200.2 1602.6,208.2 1598.6,210.8" fill="#d0d0ca" /><polygon points="1606.0,197.6 1610.0,195.2 1610.4,203.2 1606.4,205.8" fill="#d0d0ca" /><polygon points="1613.6,192.6 1617.6,190.2 1618.0,198.2 1614.0,200.8" fill="#d0d0ca" /><rect x="1580.5" y="209.6" width="4.0" height="2.8" fill="#c6c6c0" /><rect x="1588.6" y="209.6" width="4.0" height="2.8" fill="#c6c6c0" /><rect x="1280.0" y="292.2" width="18.6" height="18.6" fill="#eff1f3" /><polygon points="1282.1,302.3 1289.5,306.3 1289.5,310.0 1283.2,305.6" fill="#c9c9c9" /><polygon points="1289.5,306.3 1296.5,302.3 1295.4,305.1 1289.5,310.0" fill="#a8a8a8" /><polygon points="1281.8,297.2 1289.3,294.0 1296.8,297.2 1296.8,302.3 1289.5,306.3 1281.8,302.3" fill="#141414" stroke="#141414" stroke-width="2.0" stroke-linejoin="round"/><polygon points="1294.1,296.8 1294.4,296.9 1294.6,297.1 1294.6,297.3 1294.6,297.6 1294.4,297.8 1294.1,297.9 1290.6,299.8 1290.3,299.9 1289.9,300.0 1289.4,300.1 1289.0,300.0 1288.6,299.9 1288.2,299.8 1284.5,297.9 1284.3,297.8 1284.1,297.6 1284.0,297.3 1284.1,297.1 1284.2,296.9 1284.5,296.8 1288.1,295.2 1288.5,295.1 1288.9,295.0 1289.3,295.0 1289.7,295.0 1290.2,295.1 1290.5,295.2" fill="#c9cacc" /><rect x="1299.8" y="292.2" width="19.4" height="18.0" fill="#f1efed" /><polygon points="1302.3,297.9 1309.5,294.7 1316.7,297.9 1316.7,303.3 1309.7,307.7 1302.3,303.3" fill="#141414" stroke="#141414" stroke-width="3.4" stroke-linejoin="round"/><rect x="1344.0" y="288.2" width="23.4" height="22.6" fill="#eff1f3" /><polygon points="1346.2,300.7 1355.9,305.6 1355.9,310.0 1347.5,304.7" fill="#c9c9c9" /><polygon points="1355.9,305.6 1365.2,300.7 1363.9,304.1 1355.9,310.0" fill="#a8a8a8" /><polygon points="1345.8,294.2 1355.7,290.0 1365.6,294.2 1365.6,300.7 1355.9,305.6 1345.8,300.7" fill="#141414" stroke="#141414" stroke-width="2.0" stroke-linejoin="round"/><polygon points="1362.1,293.6 1362.4,293.8 1362.6,294.1 1362.7,294.3 1362.7,294.6 1362.4,294.9 1362.1,295.1 1357.4,297.4 1357.0,297.6 1356.4,297.7 1355.9,297.8 1355.3,297.7 1354.7,297.6 1354.3,297.4 1349.4,295.1 1349.1,294.9 1348.8,294.6 1348.7,294.3 1348.8,294.1 1349.0,293.8 1349.4,293.6 1354.1,291.5 1354.6,291.4 1355.1,291.3 1355.7,291.3 1356.3,291.3 1356.8,291.4 1357.3,291.5" fill="#c9cacc" /><rect x="1368.4" y="287.6" width="23.2" height="22.6" fill="#f1efed" /><polygon points="1370.9,294.7 1380.0,290.1 1389.1,294.7 1389.1,301.9 1380.2,307.7 1370.9,301.9" fill="#141414" stroke="#141414" stroke-width="3.4" stroke-linejoin="round"/><rect x="1408.8" y="284.6" width="26.2" height="26.2" fill="#eff1f3" /><polygon points="1411.1,299.2 1422.1,305.1 1422.1,310.0 1412.6,303.9" fill="#c9c9c9" /><polygon points="1422.1,305.1 1432.7,299.2 1431.2,303.1 1422.1,310.0" fill="#a8a8a8" /><polygon points="1410.6,291.5 1421.9,286.4 1433.2,291.5 1433.2,299.2 1422.1,305.1 1410.6,299.2" fill="#141414" stroke="#141414" stroke-width="2.0" stroke-linejoin="round"/><polygon points="1429.2,290.8 1429.6,291.0 1429.8,291.3 1429.9,291.6 1429.8,292.0 1429.6,292.3 1429.2,292.5 1423.9,295.3 1423.4,295.5 1422.7,295.7 1422.1,295.7 1421.4,295.7 1420.8,295.5 1420.3,295.3 1414.7,292.5 1414.3,292.3 1414.0,292.0 1413.9,291.6 1414.0,291.3 1414.3,291.0 1414.7,290.8 1420.1,288.3 1420.6,288.1 1421.2,288.0 1421.9,287.9 1422.6,288.0 1423.2,288.1 1423.7,288.3" fill="#c9cacc" /><rect x="1435.2" y="285.0" width="29.6" height="25.4" fill="#eff1f3" /><polygon points="1437.7,292.9 1450.0,287.5 1462.3,292.9 1462.3,301.3 1450.3,307.9 1437.7,301.3" fill="#141414" stroke="#141414" stroke-width="3.4" stroke-linejoin="round"/><rect x="1481.4" y="284.8" width="30.4" height="26.2" fill="#f4f5f7" /><polygon points="1483.7,299.2 1496.9,305.1 1496.9,310.2 1485.4,304.3" fill="#d0d0d0" /><polygon points="1496.9,305.1 1509.5,299.2 1507.8,303.4 1496.9,310.2" fill="#a8a8a8" /><polygon points="1483.1,291.8 1496.6,286.5 1510.1,291.8 1510.1,299.2 1496.9,305.1 1483.1,299.2" fill="#141414" stroke="#141414" stroke-width="1.8" stroke-linejoin="round"/><polygon points="1505.3,290.7 1505.9,291.0 1506.3,291.4 1506.4,291.8 1506.3,292.2 1505.9,292.6 1505.3,293.0 1499.5,295.5 1498.7,295.8 1497.8,296.0 1496.8,296.0 1495.8,296.0 1494.9,295.8 1494.1,295.5 1488.0,293.0 1487.4,292.6 1487.0,292.2 1486.9,291.8 1487.0,291.4 1487.4,291.0 1488.0,290.7 1493.9,288.4 1494.7,288.2 1495.6,288.0 1496.6,288.0 1497.6,288.0 1498.5,288.2 1499.3,288.4" fill="#4a4b4d" /><rect x="1514.0" y="282.6" width="30.8" height="28.4" fill="#f4f5f7" /><polygon points="1516.3,298.3 1529.7,304.7 1529.7,310.2 1518.0,303.8" fill="#d0d0d0" /><polygon points="1529.7,304.7 1542.5,298.3 1540.8,302.9 1529.7,310.2" fill="#a8a8a8" /><polygon points="1515.7,290.1 1529.4,284.3 1543.1,290.1 1543.1,298.3 1529.7,304.7 1515.7,298.3" fill="#141414" stroke="#141414" stroke-width="1.8" stroke-linejoin="round"/><polygon points="1538.2,289.0 1538.8,289.3 1539.2,289.7 1539.3,290.2 1539.2,290.6 1538.8,291.1 1538.2,291.4 1532.3,294.2 1531.5,294.5 1530.6,294.7 1529.6,294.8 1528.6,294.7 1527.7,294.5 1526.9,294.2 1520.7,291.4 1520.1,291.1 1519.7,290.6 1519.5,290.2 1519.7,289.7 1520.0,289.3 1520.6,289.0 1526.7,286.4 1527.5,286.1 1528.4,286.0 1529.4,285.9 1530.4,286.0 1531.3,286.1 1532.1,286.4" fill="#d2d3d5" /><polygon points="1576.0,300.0 1589.5,307.0 1602.0,300.0 1602.0,305.0 1589.5,311.4 1577.4,305.6" fill="#b9bbbd" /><polygon points="1574.2,288.6 1588.6,280.6 1603.4,288.0 1603.4,299.4 1589.6,306.6 1574.2,299.2" fill="#3c4043" stroke="#3c4043" stroke-width="1" stroke-linejoin="round"/><polygon points="1574.2,288.6 1588.6,280.6 1603.4,288.0 1589.4,295.6" fill="#53575a" /><ellipse cx="1588.8" cy="286.2" rx="9.0" ry="7.4" fill="#d4d6cb" /><ellipse cx="1588.8" cy="285.0" rx="7.6" ry="5.8" fill="#c4c6b9" /><ellipse cx="1587.2" cy="283.6" rx="4.0" ry="2.6" fill="#d9dbd0" /><rect x="1646.4" y="280.8" width="38.2" height="32.6" fill="#f2f3f5" /><polygon points="1649.6,300.0 1664.8,306.4 1682.4,298.8 1680.6,306.2 1665.0,312.0 1651.4,307.6" fill="#d6d6d6" /><rect x="1656.5" y="304.6" width="1.7" height="6.0" fill="#a9a9a9" /><rect x="1661.0" y="306.2" width="1.6" height="5.4" fill="#a9a9a9" /><polygon points="1648.4,289.4 1666.4,281.6 1683.2,289.6 1682.8,298.6 1664.6,305.4 1648.8,299.4" fill="#141414" stroke="#141414" stroke-width="1.2" stroke-linejoin="round"/><ellipse cx="1666.2" cy="288.6" rx="11.0" ry="5.6" fill="#e2e3e5" transform="rotate(2 1666.2 288.6)"/><polygon points="1686.6,285.4 1702.4,275.2 1723.4,287.8 1723.2,301.2 1706.0,312.0 1687.4,299.6" fill="#f3f3f3" stroke="#e2e2e2" stroke-width="0.6"/><polygon points="1706.4,298.2 1723.4,287.8 1723.2,301.2 1706.0,312.0" fill="#dedede" /><polygon points="1686.6,285.4 1706.4,298.2 1706.0,312.0 1687.4,299.6" fill="#ececec" /><polygon points="1686.6,285.4 1702.4,275.2 1723.4,287.8 1706.4,298.2" fill="#e9e9eb" /><polygon points="1691.4,285.2 1694.6,283.2 1707.8,291.4 1704.6,293.6" fill="#dfb23c" stroke="#dfb23c" stroke-width="1.8" stroke-linejoin="round"/><rect x="1710.6" y="303.6" width="1.5" height="4.4" fill="#c4c4c4" /><rect x="1715.2" y="300.8" width="1.5" height="4.4" fill="#c4c4c4" /><rect x="1719.6" y="298.0" width="1.5" height="4.4" fill="#c4c4c4" /></svg>
</body></html>
